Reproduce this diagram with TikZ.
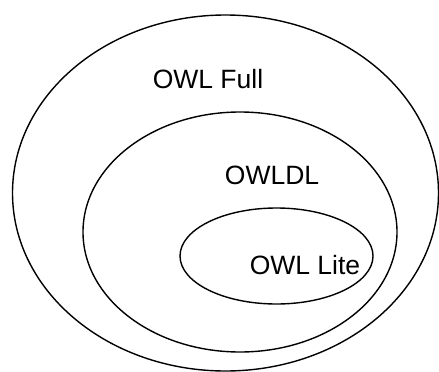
\documentclass[tikz,border=0pt]{standalone}
\usepackage{fontspec}
\setmainfont{Liberation Sans}
\begin{document}
\begin{tikzpicture}[x=1pt,y=-1pt,
  ring/.style={draw=black,line width=1.4pt},
  lbl/.style={font=\fontsize{26.5}{32}\selectfont,inner sep=0pt}]
\useasboundingbox (0,0) rectangle (439,372);
\fill[white] (0,0) rectangle (439,372);
\draw[ring] (225.5,193) ellipse [x radius=213, y radius=178];
\draw[ring] (240,232) ellipse [x radius=157, y radius=120];
\draw[ring] (276.5,256) ellipse [x radius=96.5, y radius=48];
\node[lbl] (full) at (208,79) {OWL Full};
\node[lbl] (dl) at (272,175) {OWLDL};
\node[lbl] (lite) at (305,265) {OWL Lite};
\end{tikzpicture}
\end{document}
